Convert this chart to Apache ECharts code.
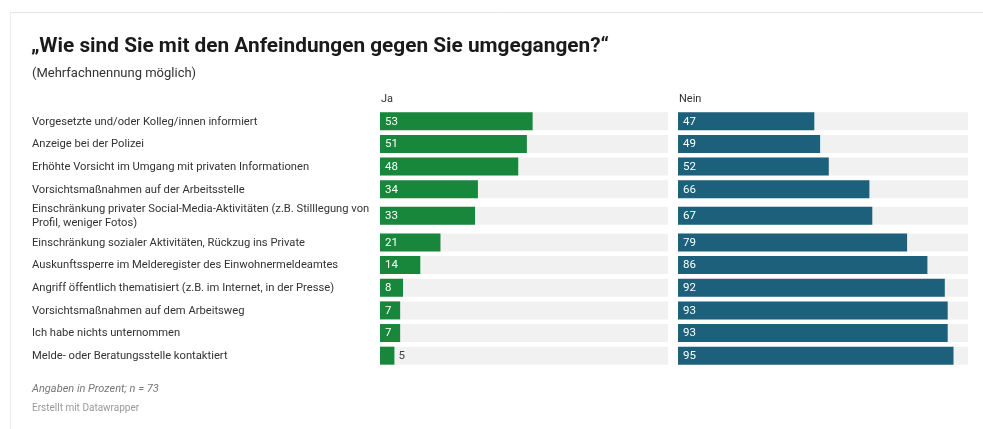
<!DOCTYPE html>
<html>
<head>
<meta charset="utf-8">
<style>
  html, body { margin: 0; padding: 0; background: #ffffff; }
  #chart { width: 983px; height: 429px; }
</style>
<script src="https://cdn.jsdelivr.net/npm/echarts@6/dist/echarts.min.js"></script>
</head>
<body>
<div id="chart"></div>
<script>
// Answers, top to bottom
const categories = [
  'Vorgesetzte und/oder Kolleg/innen informiert',
  'Anzeige bei der Polizei',
  'Erhöhte Vorsicht im Umgang mit privaten Informationen',
  'Vorsichtsmaßnahmen auf der Arbeitsstelle',
  'Einschränkung privater Social-Media-Aktivitäten (z.B. Stilllegung von\nProfil, weniger Fotos)',
  'Einschränkung sozialer Aktivitäten, Rückzug ins Private',
  'Auskunftssperre im Melderegister des Einwohnermeldeamtes',
  'Angriff öffentlich thematisiert (z.B. im Internet, in der Presse)',
  'Vorsichtsmaßnahmen auf dem Arbeitsweg',
  'Ich habe nichts unternommen',
  'Melde- oder Beratungsstelle kontaktiert'
];
// Percent answering "Ja" / "Nein"
const jaValues = [53, 51, 48, 34, 33, 21, 14, 8, 7, 7, 5];
const neinValues = [47, 49, 52, 66, 67, 79, 86, 92, 93, 93, 95];
const columnTitles = ['Ja', 'Nein'];

const FONT = 'Roboto, "Noto Sans", Arial, sans-serif';
const COLORS = ['#19873b', '#1d607b'];

// Rows with a wrapped label get a taller slot
const slotSize = categories.map(c => (c.split('\n').length > 1 ? 1.35 : 1));
const slotCenter = [];
let acc = 0;
slotSize.forEach((s) => { slotCenter.push(acc + s / 2); acc += s; });
const totalSlots = acc;

const chart = echarts.init(document.getElementById('chart'), null, { renderer: 'canvas' });

function makeRender(color, withRowLabels) {
  return function (params, api) {
    const i = params.dataIndex;
    const val = api.value(0);
    const pos = api.value(1);
    const p0 = api.coord([0, pos]);
    const p1 = api.coord([val, pos]);
    const pMax = api.coord([100, pos]);
    const h = 18;
    const children = [
      { type: 'rect', shape: { x: p0[0], y: p0[1] - h / 2, width: pMax[0] - p0[0], height: h },
        style: { fill: '#f1f1f1' } },
      { type: 'rect', shape: { x: p0[0], y: p0[1] - h / 2, width: p1[0] - p0[0], height: h },
        style: { fill: color } }
    ];
    const inside = (p1[0] - p0[0]) > 16;
    children.push({
      type: 'text',
      style: {
        text: String(val),
        x: inside ? p0[0] + 5 : p1[0] + 4,
        y: p0[1] + 0.5,
        fill: inside ? '#ffffff' : '#444444',
        fontSize: 11.5, fontFamily: FONT,
        align: 'left', verticalAlign: 'middle'
      }
    });
    if (withRowLabels) {
      children.push({
        type: 'text',
        style: {
          text: categories[i],
          x: 32, y: p0[1] + 0.5,
          fill: '#333333',
          fontSize: 11.2, fontFamily: FONT, lineHeight: 13.5,
          align: 'left', verticalAlign: 'middle'
        }
      });
    }
    return { type: 'group', children };
  };
}

const grids = [
  { left: 380, width: 288, top: 110, height: 257 },
  { left: 678, width: 290, top: 110, height: 257 }
];

const option = {
  backgroundColor: '#ffffff',
  animation: false,
  grid: grids,
  xAxis: grids.map((g, k) => ({ type: 'value', gridIndex: k, min: 0, max: 100, show: false })),
  yAxis: grids.map((g, k) => ({ type: 'value', gridIndex: k, min: 0, max: totalSlots, inverse: true, show: false })),
  series: [
    {
      type: 'custom', name: columnTitles[0], xAxisIndex: 0, yAxisIndex: 0, clip: false,
      renderItem: makeRender(COLORS[0], true),
      data: jaValues.map((v, i) => [v, slotCenter[i]])
    },
    {
      type: 'custom', name: columnTitles[1], xAxisIndex: 1, yAxisIndex: 1, clip: false,
      renderItem: makeRender(COLORS[1], false),
      data: neinValues.map((v, i) => [v, slotCenter[i]])
    }
  ],
  graphic: [
    // frame
    { type: 'line', shape: { x1: 10, y1: 12.5, x2: 983, y2: 12.5 }, style: { stroke: '#e4e4e4', lineWidth: 1 } },
    { type: 'line', shape: { x1: 10.5, y1: 12, x2: 10.5, y2: 429 }, style: { stroke: '#ececec', lineWidth: 1 } },
    { type: 'text', left: 31, top: 36,
      style: { text: '„Wie sind Sie mit den Anfeindungen gegen Sie umgegangen?“', fill: '#1a1a1a',
               fontSize: 20.8, fontWeight: 'bold', fontFamily: FONT } },
    { type: 'text', left: 32, top: 67,
      style: { text: '(Mehrfachnennung möglich)', fill: '#333333', fontSize: 13, fontFamily: FONT } },
    { type: 'text', left: 381, top: 94,
      style: { text: columnTitles[0], fill: '#333333', fontSize: 11, fontFamily: FONT } },
    { type: 'text', left: 679, top: 94,
      style: { text: columnTitles[1], fill: '#333333', fontSize: 11, fontFamily: FONT } },
    { type: 'text', left: 32, top: 384,
      style: { text: 'Angaben in Prozent; n = 73', fill: '#777777', fontSize: 11, fontStyle: 'italic', fontFamily: FONT } },
    { type: 'text', left: 32, top: 403,
      style: { text: 'Erstellt mit Datawrapper', fill: '#999999', fontSize: 10, fontFamily: FONT } }
  ]
};

chart.setOption(option);
</script>
</body>
</html>
